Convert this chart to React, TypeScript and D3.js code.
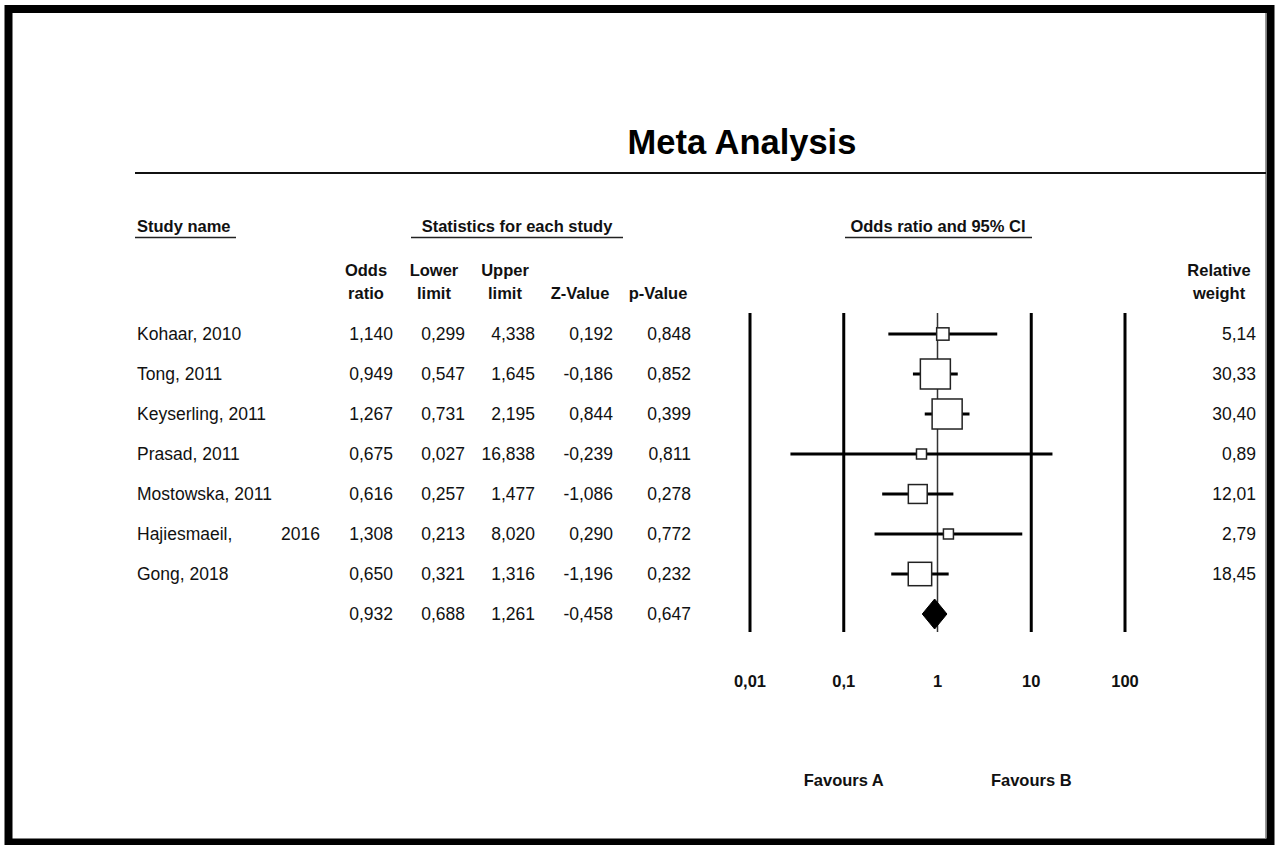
import React from "react";
import * as d3 from "d3";

const studyNames = [
  "Kohaar, 2010",
  "Tong, 2011",
  "Keyserling, 2011",
  "Prasad, 2011",
  "Mostowska, 2011",
  "Hajiesmaeil,\t2016",
  "Gong, 2018",
];
const oddsRatio = [1.14, 0.949, 1.267, 0.675, 0.616, 1.308, 0.65];
const lowerLimit = [0.299, 0.547, 0.731, 0.027, 0.257, 0.213, 0.321];
const upperLimit = [4.338, 1.645, 2.195, 16.838, 1.477, 8.02, 1.316];
const zValue = [0.192, -0.186, 0.844, -0.239, -1.086, 0.29, -1.196];
const pValue = [0.848, 0.852, 0.399, 0.811, 0.278, 0.772, 0.232];
const relWeight = [5.14, 30.33, 30.4, 0.89, 12.01, 2.79, 18.45];

const summary = { or: 0.932, lower: 0.688, upper: 1.261, z: -0.458, p: 0.647 };

const ticks = [0.01, 0.1, 1, 10, 100];
const tickLabels = ["0,01", "0,1", "1", "10", "100"];

const FONT = "'Liberation Sans', Arial, sans-serif";

const fmt3 = (v: number) => v.toFixed(3).replace(".", ",");
const fmt2 = (v: number) => v.toFixed(2).replace(".", ",");

export default function App() {
  const W = 1277;
  const H = 845;
  const x = d3.scaleLog().domain([0.01, 100]).range([750, 1125]);
  const rowY = d3.scaleLinear().domain([0, 7]).range([334, 614]);
  const sizeScale = d3.scaleSqrt().domain([0, 30.33]).range([0, 30]);
  const boxSize = (w: number) => Math.max(10, sizeScale(w));

  const colRight = [393, 465, 535, 613, 691];
  const textStyle: React.CSSProperties = { fontFamily: FONT, fontSize: 17.5, fill: "#111" };
  const boldStyle: React.CSSProperties = { fontFamily: FONT, fontSize: 16.5, fill: "#111", fontWeight: "bold" };

  const allRows = studyNames.map((n, i) => ({
    name: n,
    vals: [oddsRatio[i], lowerLimit[i], upperLimit[i], zValue[i], pValue[i]],
  }));
  const summaryVals = [summary.or, summary.lower, summary.upper, summary.z, summary.p];

  const sy = rowY(7);
  const diamond = [
    [x(summary.lower), sy],
    [x(summary.or), sy - 15],
    [x(summary.upper), sy],
    [x(summary.or), sy + 15],
  ];

  return (
    <svg width={W} height={H} style={{ position: "absolute", left: 0, top: 0, background: "#fff" }}>
      <rect x={0} y={0} width={W} height={H} fill="#fff" />
      {/* frame */}
      <rect x={8.5} y={9} width={1262} height={833.5} fill="none" stroke="#000" strokeWidth={8} />
      <line x1={1265.5} x2={1265.5} y1={13} y2={838} stroke="#999" strokeWidth={1} />

      {/* title */}
      <text x={742} y={154} textAnchor="middle" style={{ fontFamily: FONT, fontSize: 34.5, fontWeight: "bold", fill: "#000" }}>
        Meta Analysis
      </text>
      <line x1={135} x2={1266} y1={173} y2={173} stroke="#111" strokeWidth={2} />

      {/* group headers */}
      <text x={137} y={232} style={boldStyle}>Study name</text>
      <line x1={135} x2={236} y1={237.5} y2={237.5} stroke="#222" strokeWidth={1.5} />
      <text x={517} y={232} textAnchor="middle" style={boldStyle}>Statistics for each study</text>
      <line x1={411} x2={623} y1={237.5} y2={237.5} stroke="#222" strokeWidth={1.5} />
      <text x={938} y={232} textAnchor="middle" style={boldStyle}>Odds ratio and 95% CI</text>
      <line x1={845} x2={1032} y1={237.5} y2={237.5} stroke="#222" strokeWidth={1.5} />

      {/* column headers */}
      {[
        ["Odds", "ratio", 366],
        ["Lower", "limit", 434],
        ["Upper", "limit", 505],
        ["", "Z-Value", 580],
        ["", "p-Value", 658],
        ["Relative", "weight", 1219],
      ].map(([a, b, cx], i) => (
        <g key={i}>
          {a && (
            <text x={cx as number} y={276} textAnchor="middle" style={boldStyle}>{a}</text>
          )}
          <text x={cx as number} y={299} textAnchor="middle" style={boldStyle}>{b}</text>
        </g>
      ))}

      {/* rows */}
      {allRows.map((r, i) => {
        const y = rowY(i) + 6;
        const parts = r.name.split("\t");
        return (
          <g key={i}>
            <text x={137} y={y} style={textStyle}>{parts[0]}</text>
            {parts[1] && (
              <text x={320} y={y} textAnchor="end" style={textStyle}>{parts[1]}</text>
            )}
            {r.vals.map((v, j) => (
              <text key={j} x={colRight[j]} y={y} textAnchor="end" style={textStyle}>{fmt3(v)}</text>
            ))}
            <text x={1256} y={y} textAnchor="end" style={textStyle}>{fmt2(relWeight[i])}</text>
          </g>
        );
      })}
      {summaryVals.map((v, j) => (
        <text key={"s" + j} x={colRight[j]} y={sy + 6} textAnchor="end" style={textStyle}>{fmt3(v)}</text>
      ))}

      {/* forest verticals */}
      {ticks.map((t, i) => (
        <line
          key={"v" + i}
          x1={x(t)}
          x2={x(t)}
          y1={313}
          y2={632}
          stroke={t === 1 ? "#333" : "#000"}
          strokeWidth={t === 1 ? 1.5 : 3}
        />
      ))}

      {/* CI lines */}
      {allRows.map((r, i) => (
        <line
          key={"ci" + i}
          x1={x(lowerLimit[i])}
          x2={x(upperLimit[i])}
          y1={rowY(i)}
          y2={rowY(i)}
          stroke="#000"
          strokeWidth={3}
        />
      ))}
      {/* boxes */}
      {allRows.map((r, i) => {
        const s = boxSize(relWeight[i]);
        return (
          <rect
            key={"b" + i}
            x={x(oddsRatio[i]) - s / 2}
            y={rowY(i) - s / 2}
            width={s}
            height={s}
            fill="#fff"
            stroke="#222"
            strokeWidth={1.5}
          />
        );
      })}
      {/* summary diamond */}
      <polygon points={diamond.map((p) => p.join(",")).join(" ")} fill="#000" stroke="#000" strokeWidth={1} />

      {/* tick labels */}
      {ticks.map((t, i) => (
        <text key={"tl" + i} x={x(t)} y={687} textAnchor="middle" style={boldStyle}>
          {tickLabels[i]}
        </text>
      ))}

      <text x={x(0.1)} y={786} textAnchor="middle" style={boldStyle}>Favours A</text>
      <text x={x(10)} y={786} textAnchor="middle" style={boldStyle}>Favours B</text>
    </svg>
  );
}
